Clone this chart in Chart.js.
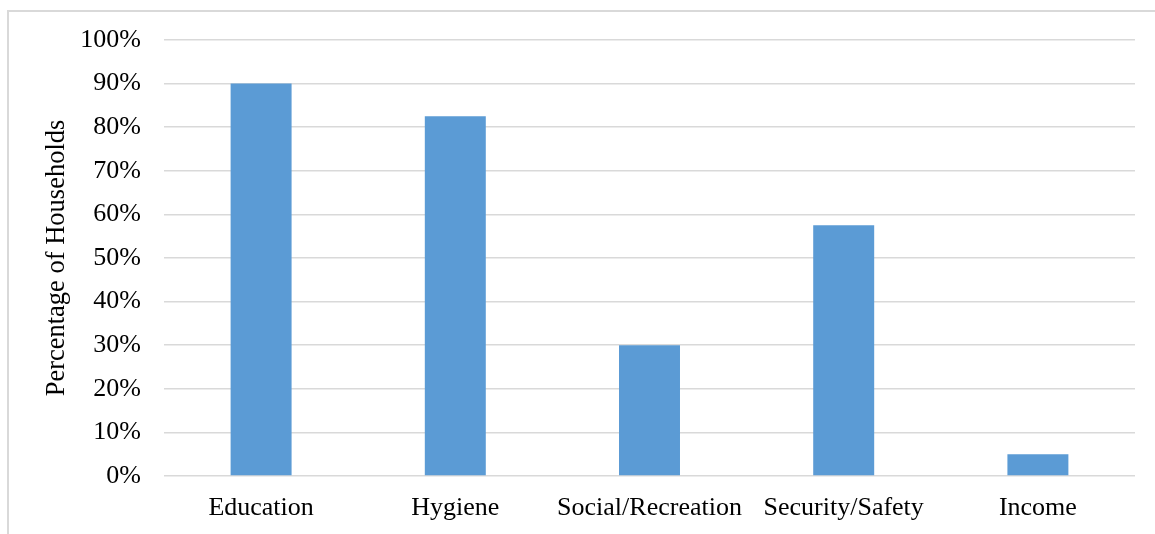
<!DOCTYPE html>
<html>
<head>
<meta charset="utf-8">
<script src="https://cdn.jsdelivr.net/npm/chart.js@4"></script>
<style>
  html, body { margin: 0; padding: 0; background: #fff; }
  #wrap { position: relative; width: 1155px; height: 534px; overflow: hidden; }
  #frame {
    position: absolute; left: 7px; top: 10px; width: 1200px; height: 600px;
    border-left: 2px solid #d9d9d9; border-top: 2px solid #d9d9d9;
  }
  #chart { position: absolute; left: 0; top: 0; }
</style>
</head>
<body>
<div id="wrap">
  <div id="frame"></div>
  <canvas id="chart" width="1155" height="534"></canvas>
</div>
<script>
// household purposes
const categories = ['Education', 'Hygiene', 'Social/Recreation', 'Security/Safety', 'Income'];
const shares = [90, 82.5, 30, 57.5, 5];
const yTicks = [0, 10, 20, 30, 40, 50, 60, 70, 80, 90, 100];

const serif = 'Liberation Serif, Times New Roman, serif';

const ctx = document.getElementById('chart').getContext('2d');
new Chart(ctx, {
  type: 'bar',
  data: {
    labels: categories,
    datasets: [{
      data: shares,
      backgroundColor: '#5b9bd5',
      borderWidth: 0,
      categoryPercentage: 1,
      barPercentage: 0.314
    }]
  },
  options: {
    responsive: false,
    animation: false,
    layout: { padding: { top: 40, right: 20, left: 0, bottom: 0 } },
    plugins: { legend: { display: false }, tooltip: { enabled: false } },
    scales: {
      x: {
        grid: { display: false },
        border: { display: false },
        ticks: { color: '#000', font: { family: serif, size: 26 }, padding: 9, maxRotation: 0 },
        afterFit: (scale) => { scale.height = 58; }
      },
      y: {
        min: 0,
        max: 100,
        afterBuildTicks: (scale) => { scale.ticks = yTicks.map(v => ({ value: v })); },
        grid: { color: '#d9d9d9', lineWidth: 1.5, drawTicks: false },
        border: { display: false },
        ticks: {
          color: '#000',
          font: { family: serif, size: 26 },
          padding: 23,
          callback: (v) => v + '%'
        },
        title: {
          display: true,
          text: 'Percentage of Households',
          color: '#000',
          font: { family: serif, size: 26.5, lineHeight: 1.2 },
          padding: { top: 41, bottom: 0 }
        },
        afterFit: (scale) => { scale.width = 164; }
      }
    }
  }
});
</script>
</body>
</html>
